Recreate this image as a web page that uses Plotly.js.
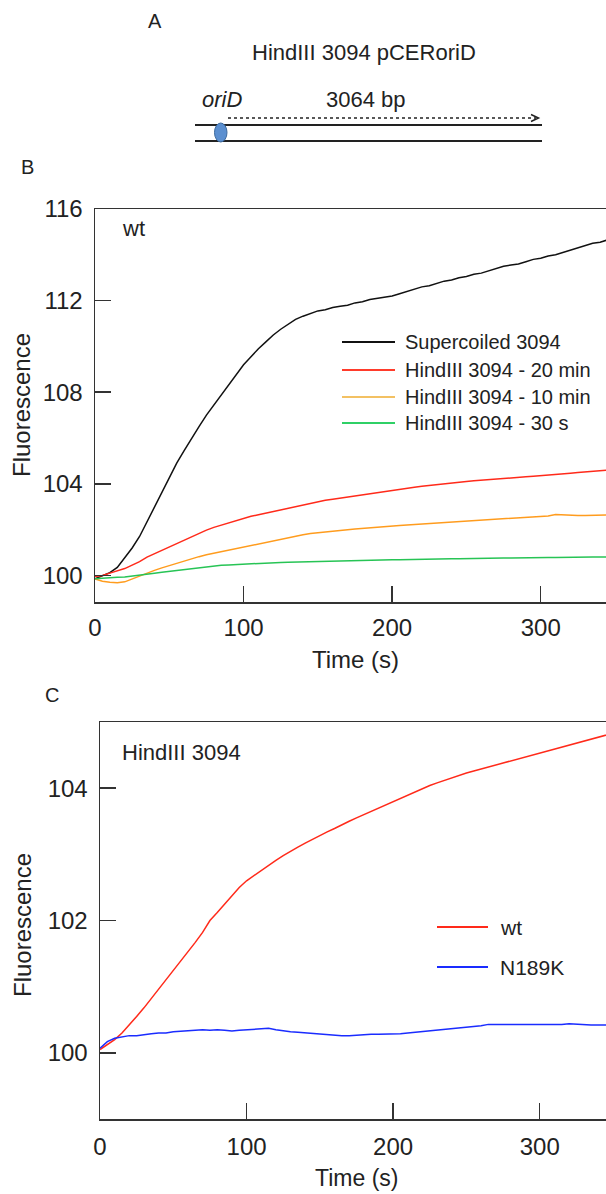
<!DOCTYPE html>
<html>
<head>
<meta charset="utf-8">
<script src="https://cdn.plot.ly/plotly-3.0.1.min.js"></script>
<style>
html,body{margin:0;padding:0;overflow:hidden;background:#fff;}
#chart{width:630px;height:1194px;}
</style>
</head>
<body>
<div id="chart"></div>
<script>
// ---------- data ----------
const time = [0,5,10,15,20,25,30,35,40,45,50,55,60,65,70,75,80,85,90,95,100,105,110,115,120,125,130,135,140,145,150,155,160,165,170,175,180,185,190,195,200,205,210,215,220,225,230,235,240,245,250,255,260,265,270,275,280,285,290,295,300,305,310,315,320,325,330,335,340,345,350];

const supercoiled = [99.85,100.0,100.12,100.35,100.75,101.2,101.7,102.35,103.0,103.65,104.3,104.9,105.45,106.0,106.5,107.0,107.45,107.9,108.35,108.8,109.2,109.55,109.9,110.2,110.5,110.75,110.98,111.18,111.32,111.45,111.55,111.6,111.7,111.75,111.8,111.9,111.95,112.05,112.1,112.15,112.2,112.3,112.4,112.5,112.6,112.65,112.75,112.85,112.9,113.0,113.05,113.15,113.2,113.3,113.4,113.5,113.55,113.6,113.7,113.8,113.85,113.95,114.0,114.1,114.2,114.3,114.4,114.5,114.55,114.65,114.7];

const hind20min = [99.95,100.0,100.1,100.2,100.3,100.45,100.6,100.8,100.95,101.1,101.25,101.4,101.55,101.7,101.85,101.98,102.1,102.2,102.3,102.4,102.5,102.58,102.65,102.72,102.8,102.88,102.95,103.02,103.1,103.16,103.22,103.28,103.33,103.38,103.43,103.48,103.53,103.58,103.63,103.68,103.73,103.77,103.81,103.85,103.89,103.93,103.97,104.01,104.04,104.07,104.1,104.13,104.16,104.19,104.22,104.25,104.27,104.29,104.31,104.33,104.35,104.38,104.4,104.43,104.46,104.49,104.52,104.55,104.57,104.6,104.63];

const hind10min = [99.85,99.75,99.7,99.68,99.72,99.85,99.98,100.1,100.22,100.33,100.43,100.53,100.65,100.73,100.82,100.9,100.97,101.04,101.1,101.17,101.23,101.3,101.38,101.46,101.53,101.6,101.67,101.73,101.78,101.83,101.87,101.9,101.94,101.97,102.0,102.03,102.06,102.08,102.11,102.13,102.16,102.18,102.2,102.22,102.24,102.26,102.28,102.3,102.32,102.34,102.36,102.38,102.4,102.42,102.44,102.46,102.48,102.5,102.52,102.54,102.56,102.6,102.66,102.64,102.62,102.62,102.62,102.63,102.63,102.63,102.64];

const hind30s = [99.85,99.88,99.9,99.92,99.93,99.98,100.02,100.06,100.1,100.14,100.18,100.22,100.27,100.31,100.35,100.38,100.41,100.44,100.46,100.48,100.5,100.52,100.54,100.55,100.56,100.57,100.58,100.59,100.6,100.6,100.61,100.62,100.63,100.63,100.64,100.65,100.66,100.67,100.67,100.68,100.69,100.69,100.7,100.7,100.71,100.71,100.72,100.72,100.73,100.73,100.74,100.74,100.75,100.75,100.76,100.76,100.76,100.77,100.77,100.77,100.78,100.78,100.78,100.79,100.79,100.79,100.8,100.8,100.8,100.81,100.81];

const wtC = [100.05,100.12,100.2,100.3,100.42,100.55,100.68,100.82,100.96,101.1,101.24,101.38,101.53,101.67,101.82,102.0,102.12,102.25,102.38,102.5,102.6,102.68,102.76,102.84,102.91,102.98,103.05,103.11,103.17,103.23,103.29,103.34,103.39,103.45,103.5,103.55,103.6,103.65,103.7,103.75,103.8,103.85,103.9,103.95,104.0,104.04,104.08,104.12,104.16,104.2,104.23,104.26,104.29,104.32,104.35,104.38,104.41,104.44,104.47,104.5,104.52,104.55,104.58,104.61,104.64,104.67,104.7,104.73,104.76,104.8,104.83];

const n189kC = [100.07,100.17,100.22,100.24,100.26,100.26,100.28,100.29,100.3,100.3,100.32,100.33,100.34,100.34,100.35,100.34,100.35,100.34,100.33,100.34,100.35,100.36,100.37,100.37,100.35,100.33,100.32,100.31,100.3,100.3,100.29,100.28,100.27,100.26,100.26,100.27,100.28,100.28,100.28,100.28,100.28,100.29,100.3,100.31,100.33,100.34,100.35,100.36,100.37,100.37,100.38,100.39,100.41,100.43,100.43,100.43,100.42,100.42,100.42,100.42,100.42,100.42,100.43,100.43,100.44,100.43,100.42,100.42,100.42,100.42,100.42];

const namesB = ["Supercoiled 3094","HindIII 3094 - 20 min","HindIII 3094 - 10 min","HindIII 3094 - 30 s"];
const namesC = ["wt","N189K"];
const xTicks = [0,100,200,300];
const yTicksB = [100,104,108,112,116];
const yTicksC = [100,102,104];

// ---------- styling ----------
const W = 630, H = 1194;
const FONT = "Liberation Sans, Arial, Helvetica, sans-serif";
const colorsB = ["#111111","#ff2a1a","#ff9c1e","#27c455"];
const legendColorsB = ["#111111","#ff3b2b","#f3c163","#2fd066"];
const colorsC = ["#ff2a1a","#1a2cff"];
const px = x => x / W;
const py = y => 1 - y / H;

const seriesB = [supercoiled, hind20min, hind10min, hind30s];
const seriesC = [wtC, n189kC];

const traces = [];
seriesB.forEach((s, i) => traces.push({
  x: time, y: s, type: "scatter", mode: "lines", name: namesB[i],
  line: {color: colorsB[i], width: 1.5}, xaxis: "x", yaxis: "y", showlegend: false
}));
seriesC.forEach((s, i) => traces.push({
  x: time, y: s, type: "scatter", mode: "lines", name: namesC[i],
  line: {color: colorsC[i], width: 1.5}, xaxis: "x2", yaxis: "y2", showlegend: false
}));

const axisCommon = {
  showline: true, mirror: true, linecolor: "#333", linewidth: 1.5,
  ticks: "inside", ticklen: 16, tickwidth: 1.5, tickcolor: "#333",
  showgrid: false, zeroline: false, fixedrange: true,
  tickfont: {family: FONT, size: 24, color: "#222"}
};

const shapes = [];
const annotations = [];
function txt(text, x, y, size, opts) {
  annotations.push(Object.assign({
    text: text, xref: "paper", yref: "paper", x: px(x), y: py(y),
    showarrow: false, xanchor: "left", yanchor: "middle",
    font: {family: FONT, size: size, color: "#222"}
  }, opts || {}));
}
function seg(x0, y0, x1, y1, color, width, dash) {
  shapes.push({type: "line", xref: "paper", yref: "paper",
    x0: px(x0), y0: py(y0), x1: px(x1), y1: py(y1),
    line: {color: color, width: width, dash: dash || "solid"}});
}

// Panel A diagram
txt("A", 155, 21, 20, {xanchor: "center"});
txt("HindIII 3094 pCERoriD", 364, 53, 22, {xanchor: "center"});
txt("<i>oriD</i>", 200, 100, 22);
txt("3064 bp", 366, 100, 22, {xanchor: "center"});
seg(228, 118, 536, 118, "#222", 1.5, "dot");
shapes.push({type: "path", xref: "paper", yref: "paper",
  path: `M ${px(531)} ${py(114.5)} L ${px(538.5)} ${py(118)} L ${px(531)} ${py(121.5)}`,
  line: {color: "#222", width: 1.5}});
seg(195, 125, 542, 125, "#222", 2);
seg(195, 141, 542, 141, "#222", 2);
shapes.push({type: "circle", xref: "paper", yref: "paper",
  x0: px(214.5), x1: px(227), y0: py(142), y1: py(123),
  fillcolor: "#5b8fd0", line: {color: "#3d6a9e", width: 1}});

// Panel labels
txt("B", 27, 167, 20, {xanchor: "center"});
txt("C", 52, 695, 20, {xanchor: "center"});

// Panel B extras
txt("wt", 120, 229, 22);
txt("Fluorescence", 22, 405, 24, {xanchor: "center", textangle: -90});
txt("Time (s)", 355, 660, 24, {xanchor: "center"});
const legBy = [342, 370, 397, 423];
namesB.forEach((n, i) => {
  seg(342, legBy[i], 395, legBy[i], legendColorsB[i], 2);
  txt(n, 403, legBy[i], 20);
});

// Panel C extras
txt("HindIII 3094", 120, 752, 22);
txt("Fluorescence", 22, 925, 24, {xanchor: "center", textangle: -90});
txt("Time (s)", 356, 1178, 23, {xanchor: "center"});
const legCy = [927, 967];
namesC.forEach((n, i) => {
  seg(437, legCy[i], 488, legCy[i], colorsC[i], 2);
  txt(n, 498, legCy[i], 21);
});

const layout = {
  width: W, height: H,
  margin: {l: 0, r: 0, t: 0, b: 0},
  paper_bgcolor: "#fff", plot_bgcolor: "#fff",
  showlegend: false,
  xaxis: Object.assign({}, axisCommon, {domain: [px(95), px(615)], range: [0, 350],
    tickvals: xTicks, anchor: "y", ticklabelstandoff: 4}),
  yaxis: Object.assign({}, axisCommon, {domain: [py(602), py(209)], range: [98.84, 116],
    tickvals: yTicksB, anchor: "x", ticklabelstandoff: 6}),
  xaxis2: Object.assign({}, axisCommon, {domain: [px(100), px(613)], range: [0, 350],
    tickvals: xTicks, anchor: "y2", ticklabelstandoff: 6}),
  yaxis2: Object.assign({}, axisCommon, {domain: [py(1119), py(722)], range: [99, 105],
    tickvals: yTicksC, anchor: "x2", ticklabelstandoff: 6}),
  shapes: shapes,
  annotations: annotations
};

Plotly.newPlot("chart", traces, layout, {staticPlot: true, displayModeBar: false});
</script>
</body>
</html>
